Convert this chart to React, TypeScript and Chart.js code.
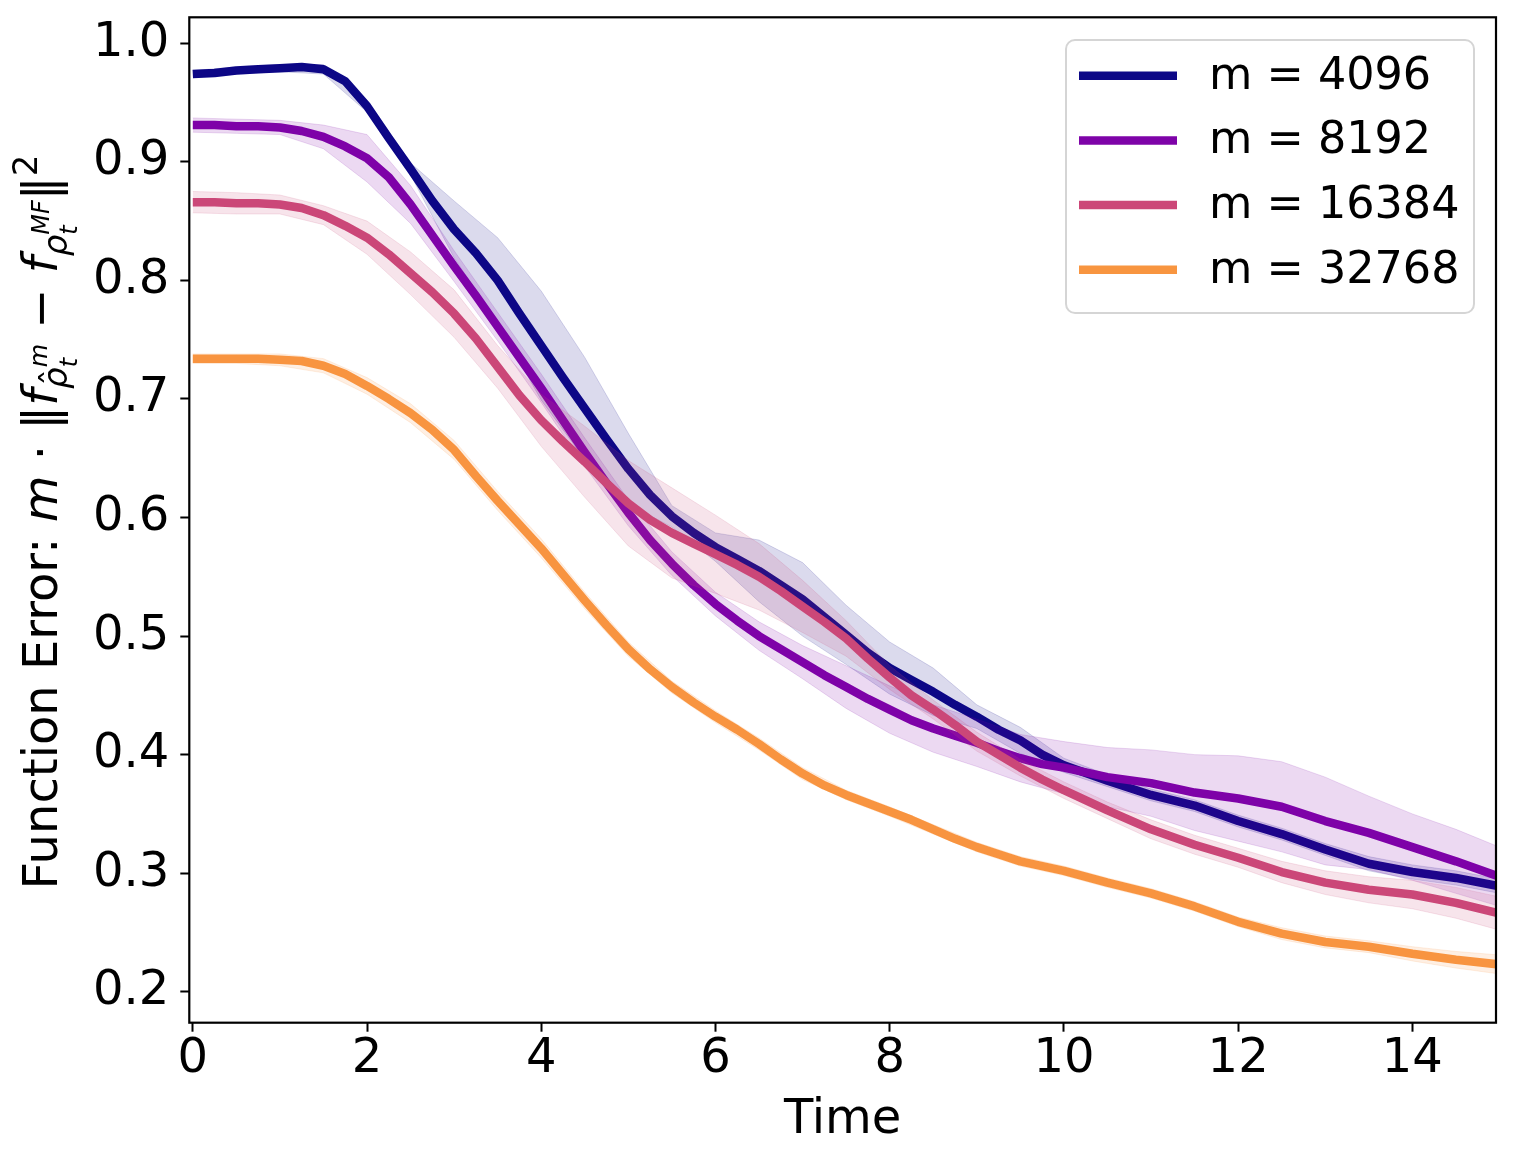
import { useEffect, useRef } from "react";
import { Chart, registerables } from "chart.js";

Chart.register(...registerables);

// time grid of the mean curves, and the coarser grid of the std bands
const MEAN_T = [
  0, 0.25, 0.5, 0.75, 1, 1.25, 1.5, 1.75, 2, 2.25, 2.5, 2.75, 3, 3.25, 3.5, 3.75, 4, 4.25, 4.5, 4.75,
  5, 5.25, 5.5, 5.75, 6, 6.25, 6.5, 6.75, 7, 7.25, 7.5, 7.75, 8, 8.25, 8.5, 8.75, 9, 9.25, 9.5, 9.75,
  10, 10.5, 11, 11.5, 12, 12.5, 13, 13.5, 14, 14.5, 15,
];
const BAND_T = [
  0, 0.5, 1, 1.5, 2, 2.5, 3, 3.5, 4, 4.5, 5, 5.5, 6, 6.5, 7, 7.5, 8, 8.5, 9, 9.5, 10, 10.5, 11, 11.5,
  12, 12.5, 13, 13.5, 14, 14.5, 15,
];

const SERIES_LABELS = ["m = 4096", "m = 8192", "m = 16384", "m = 32768"];

const MEAN_4096 = [
  0.974, 0.975, 0.977, 0.978, 0.979, 0.98, 0.978, 0.968, 0.947, 0.92, 0.894, 0.867, 0.843, 0.823, 0.8, 0.772,
  0.745, 0.718, 0.692, 0.666, 0.641, 0.619, 0.601, 0.587, 0.575, 0.565, 0.555, 0.543, 0.531, 0.516, 0.501, 0.486,
  0.473, 0.463, 0.453, 0.442, 0.432, 0.421, 0.412, 0.4, 0.391, 0.378, 0.366, 0.357, 0.344, 0.333, 0.32, 0.308,
  0.301, 0.296, 0.289,
];
const MEAN_8192 = [
  0.931, 0.931, 0.93, 0.93, 0.929, 0.926, 0.921, 0.913, 0.903, 0.887, 0.864, 0.838, 0.812, 0.787, 0.761, 0.735,
  0.709, 0.682, 0.655, 0.629, 0.604, 0.581, 0.561, 0.543, 0.527, 0.513, 0.5, 0.489, 0.478, 0.467, 0.457, 0.447,
  0.438, 0.429, 0.422, 0.416, 0.41, 0.403, 0.397, 0.392, 0.389, 0.381, 0.376, 0.368, 0.363, 0.356, 0.344, 0.334,
  0.322, 0.31, 0.297,
];
const MEAN_16384 = [
  0.866, 0.866, 0.865, 0.865, 0.864, 0.861, 0.855, 0.846, 0.836, 0.822, 0.806, 0.79, 0.772, 0.751, 0.727, 0.703,
  0.682, 0.664, 0.647, 0.629, 0.612, 0.598, 0.587, 0.578, 0.569, 0.56, 0.55, 0.538, 0.525, 0.512, 0.498, 0.481,
  0.465, 0.45, 0.438, 0.425, 0.411, 0.4, 0.389, 0.379, 0.37, 0.353, 0.337, 0.324, 0.313, 0.301, 0.292, 0.286,
  0.282, 0.275, 0.266,
];
const MEAN_32768 = [
  0.734, 0.734, 0.734, 0.734, 0.733, 0.732, 0.728, 0.721, 0.711, 0.7, 0.688, 0.674, 0.657, 0.635, 0.614, 0.594,
  0.574, 0.552, 0.53, 0.509, 0.489, 0.472, 0.457, 0.444, 0.432, 0.421, 0.409, 0.396, 0.384, 0.374, 0.366, 0.359,
  0.352, 0.345, 0.337, 0.329, 0.322, 0.316, 0.31, 0.306, 0.302, 0.292, 0.283, 0.272, 0.259, 0.249, 0.242, 0.238,
  0.232, 0.227, 0.223,
];

// half-width of the shaded band (std) on BAND_T
const SPREAD_4096 = [
  0.003, 0.003, 0.003, 0.004, 0.005, 0.005, 0.024, 0.036, 0.046, 0.043, 0.03, 0.009, 0.012, 0.026, 0.031, 0.025,
  0.022, 0.02, 0.01, 0.011, 0.006, 0.005, 0.005, 0.005, 0.005, 0.005, 0.005, 0.006, 0.006, 0.006, 0.006,
];
const SPREAD_8192 = [
  0.006, 0.006, 0.006, 0.01, 0.02, 0.016, 0.013, 0.012, 0.012, 0.012, 0.011, 0.01, 0.01, 0.012, 0.014, 0.018,
  0.02, 0.02, 0.02, 0.02, 0.022, 0.025, 0.028, 0.032, 0.036, 0.038, 0.037, 0.031, 0.028, 0.027, 0.025,
];
const SPREAD_16384 = [
  0.009, 0.009, 0.008, 0.008, 0.014, 0.018, 0.02, 0.018, 0.022, 0.03, 0.036, 0.038, 0.033, 0.028, 0.022, 0.015,
  0.01, 0.008, 0.008, 0.007, 0.007, 0.007, 0.008, 0.008, 0.008, 0.009, 0.01, 0.011, 0.012, 0.013, 0.014,
];
const SPREAD_32768 = [
  0.004, 0.004, 0.005, 0.006, 0.007, 0.008, 0.008, 0.008, 0.008, 0.007, 0.006, 0.005, 0.005, 0.005, 0.005, 0.004,
  0.004, 0.004, 0.004, 0.004, 0.004, 0.004, 0.004, 0.004, 0.004, 0.005, 0.005, 0.005, 0.006, 0.007, 0.008,
];

const X_TICKS = [0, 2, 4, 6, 8, 10, 12, 14];
const Y_TICKS = [0.2, 0.3, 0.4, 0.5, 0.6, 0.7, 0.8, 0.9, 1.0];

const MEANS = [MEAN_4096, MEAN_8192, MEAN_16384, MEAN_32768];
const SPREADS = [SPREAD_4096, SPREAD_8192, SPREAD_16384, SPREAD_32768];

// plasma colormap samples
const COLORS = ["#0d0887", "#7e03a8", "#cc4778", "#f89540"];
const FONT = "DejaVu Sans";
const LINE_W = 8.5;

function withAlpha(hex: string, a: number) {
  const n = parseInt(hex.slice(1), 16);
  return `rgba(${(n >> 16) & 255}, ${(n >> 8) & 255}, ${n & 255}, ${a})`;
}

type Glyph = { t: string; s: number; i?: boolean; dy?: number; dx?: number; noWidth?: boolean };

// y label: Function Error: m · ||f_{rho-hat_t^m} - f_{rho_t^MF}||^2
const Y_LABEL_RUNS: Glyph[][] = [
  [{ t: "Function Error: ", s: 48 }],
  [{ t: "m", s: 48, i: true }],
  [{ t: " · ", s: 48 }],
  [{ t: "‖", s: 48 }],
  [{ t: "f", s: 48, i: true }],
  [
    { t: "ρ", s: 34, i: true, dy: 10 },
    { t: "ˆ", s: 34, dy: 8, dx: 3, noWidth: true },
  ],
  [
    { t: "m", s: 24, i: true, dy: -10 },
    { t: "t", s: 24, i: true, dy: 20 },
  ],
  [{ t: " − ", s: 48 }],
  [{ t: "f", s: 48, i: true }],
  [{ t: "ρ", s: 34, i: true, dy: 10 }],
  [
    { t: "MF", s: 24, i: true, dy: -8 },
    { t: "t", s: 24, i: true, dy: 20 },
  ],
  [{ t: "‖", s: 48 }],
  [{ t: "2", s: 34, dy: -20 }],
];

const glyphFont = (g: Glyph) => `${g.i ? "italic " : ""}${g.s}px "${FONT}"`;

const decorations = {
  id: "decorations",
  afterDatasetsDraw(chart: Chart) {
    const { ctx, chartArea: a } = chart;
    ctx.save();
    ctx.strokeStyle = "#000";
    ctx.lineWidth = 2.2;
    ctx.strokeRect(a.left, a.top, a.right - a.left, a.bottom - a.top);
    ctx.restore();
  },
  afterDraw(chart: Chart) {
    const { ctx } = chart;

    // legend box
    ctx.save();
    const bx = 1066, by = 40, bw = 408, bh = 273, r = 9;
    ctx.beginPath();
    ctx.roundRect(bx, by, bw, bh, r);
    ctx.fillStyle = "rgba(255,255,255,0.8)";
    ctx.fill();
    ctx.strokeStyle = "#d5d5d5";
    ctx.lineWidth = 2;
    ctx.stroke();
    ctx.font = `44.5px "${FONT}"`;
    ctx.textBaseline = "middle";
    ctx.textAlign = "left";
    SERIES_LABELS.forEach((label, k) => {
      const y = 75.7 + k * 64.7;
      ctx.strokeStyle = COLORS[k];
      ctx.lineWidth = LINE_W;
      ctx.beginPath();
      ctx.moveTo(1079, y);
      ctx.lineTo(1177, y);
      ctx.stroke();
      ctx.fillStyle = "#000";
      ctx.fillText(label, 1209, y + 1.5);
    });
    ctx.restore();

    // y axis label with math
    ctx.save();
    ctx.translate(57, 522);
    ctx.rotate(-Math.PI / 2);
    ctx.fillStyle = "#000";
    ctx.textBaseline = "alphabetic";
    ctx.textAlign = "left";
    const widths = Y_LABEL_RUNS.map((run) =>
      Math.max(
        ...run.map((g) => {
          if (g.noWidth) return 0;
          ctx.font = glyphFont(g);
          return ctx.measureText(g.t).width;
        })
      )
    );
    const total = widths.reduce((s, w) => s + w, 0);
    let x = -total / 2;
    Y_LABEL_RUNS.forEach((run, k) => {
      run.forEach((g) => {
        ctx.font = glyphFont(g);
        ctx.fillText(g.t, x + (g.dx ?? 0), g.dy ?? 0);
      });
      x += widths[k];
    });
    ctx.restore();
  },
};

export default function App() {
  const chartRef = useRef<HTMLCanvasElement>(null);
  const chartInstance = useRef<Chart | null>(null);

  useEffect(() => {
    document.body.style.margin = "0";
    if (!chartRef.current) return;
    if (chartInstance.current) chartInstance.current.destroy();
    const ctx = chartRef.current.getContext("2d");
    if (!ctx) return;

    Chart.defaults.font.family = FONT;

    const datasets: any[] = [];
    MEANS.forEach((mean, i) => {
      const spread = SPREADS[i];
      const atBand = BAND_T.map((t) => mean[MEAN_T.indexOf(t)]);
      const bandStyle = {
        borderColor: withAlpha(COLORS[i], 0.15),
        backgroundColor: withAlpha(COLORS[i], 0.15),
        borderWidth: 1,
        pointRadius: 0,
        clip: 0,
        order: 7 - 2 * i,
      };
      datasets.push({
        ...bandStyle,
        label: SERIES_LABELS[i] + " hi",
        data: BAND_T.map((t, k) => ({ x: t, y: atBand[k] + spread[k] })),
        fill: "+1",
      });
      datasets.push({
        ...bandStyle,
        label: SERIES_LABELS[i] + " lo",
        data: BAND_T.map((t, k) => ({ x: t, y: atBand[k] - spread[k] })),
        fill: false,
      });
      datasets.push({
        label: SERIES_LABELS[i],
        data: MEAN_T.map((t, k) => ({ x: t, y: mean[k] })),
        borderColor: COLORS[i],
        borderWidth: LINE_W,
        borderJoinStyle: "round",
        pointRadius: 0,
        fill: false,
        clip: 0,
        order: 8 - 2 * i,
      });
    });

    chartInstance.current = new Chart(ctx, {
      type: "line",
      data: { datasets },
      plugins: [decorations],
      options: {
        responsive: false,
        animation: false,
        events: [],
        layout: { padding: { left: 0, top: 17.3, right: 18, bottom: 0 } },
        plugins: { legend: { display: false }, tooltip: { enabled: false } },
        scales: {
          x: {
            type: "linear",
            min: -0.04,
            max: 14.96,
            afterBuildTicks: (scale: any) => {
              scale.ticks = X_TICKS.map((v) => ({ value: v }));
            },
            afterFit: (scale: any) => {
              scale.height = 1163 - 1022.7;
              scale.paddingLeft = 0;
              scale.paddingRight = 0;
            },
            border: { display: false },
            grid: {
              drawOnChartArea: false,
              drawTicks: true,
              tickLength: 9,
              tickColor: "#000",
              tickWidth: 2,
            },
            ticks: {
              color: "#000",
              font: { size: 48, lineHeight: 1 },
              padding: 4,
              maxRotation: 0,
              autoSkip: false,
              callback: (v: any) => String(v),
            },
            title: {
              display: true,
              text: "Time",
              color: "#000",
              font: { size: 48 },
              padding: { top: 0, bottom: 14 },
            },
          },
          y: {
            type: "linear",
            min: 0.1739,
            max: 1.0219,
            afterBuildTicks: (scale: any) => {
              scale.ticks = Y_TICKS.map((v) => ({ value: v }));
            },
            afterFit: (scale: any) => {
              scale.width = 189.3;
              scale.paddingTop = 0;
              scale.paddingBottom = 0;
            },
            border: { display: false },
            grid: {
              drawOnChartArea: false,
              drawTicks: true,
              tickLength: 9,
              tickColor: "#000",
              tickWidth: 2,
            },
            ticks: {
              color: "#000",
              font: { size: 48 },
              padding: 11,
              autoSkip: false,
              callback: (v: any) => Number(v).toFixed(1),
            },
          },
        },
      },
    });

    return () => {
      if (chartInstance.current) {
        chartInstance.current.destroy();
        chartInstance.current = null;
      }
    };
  }, []);

  return (
    <div style={{ width: 1514, height: 1163, background: "#fff" }}>
      <canvas ref={chartRef} width={1514} height={1163}></canvas>
    </div>
  );
}
